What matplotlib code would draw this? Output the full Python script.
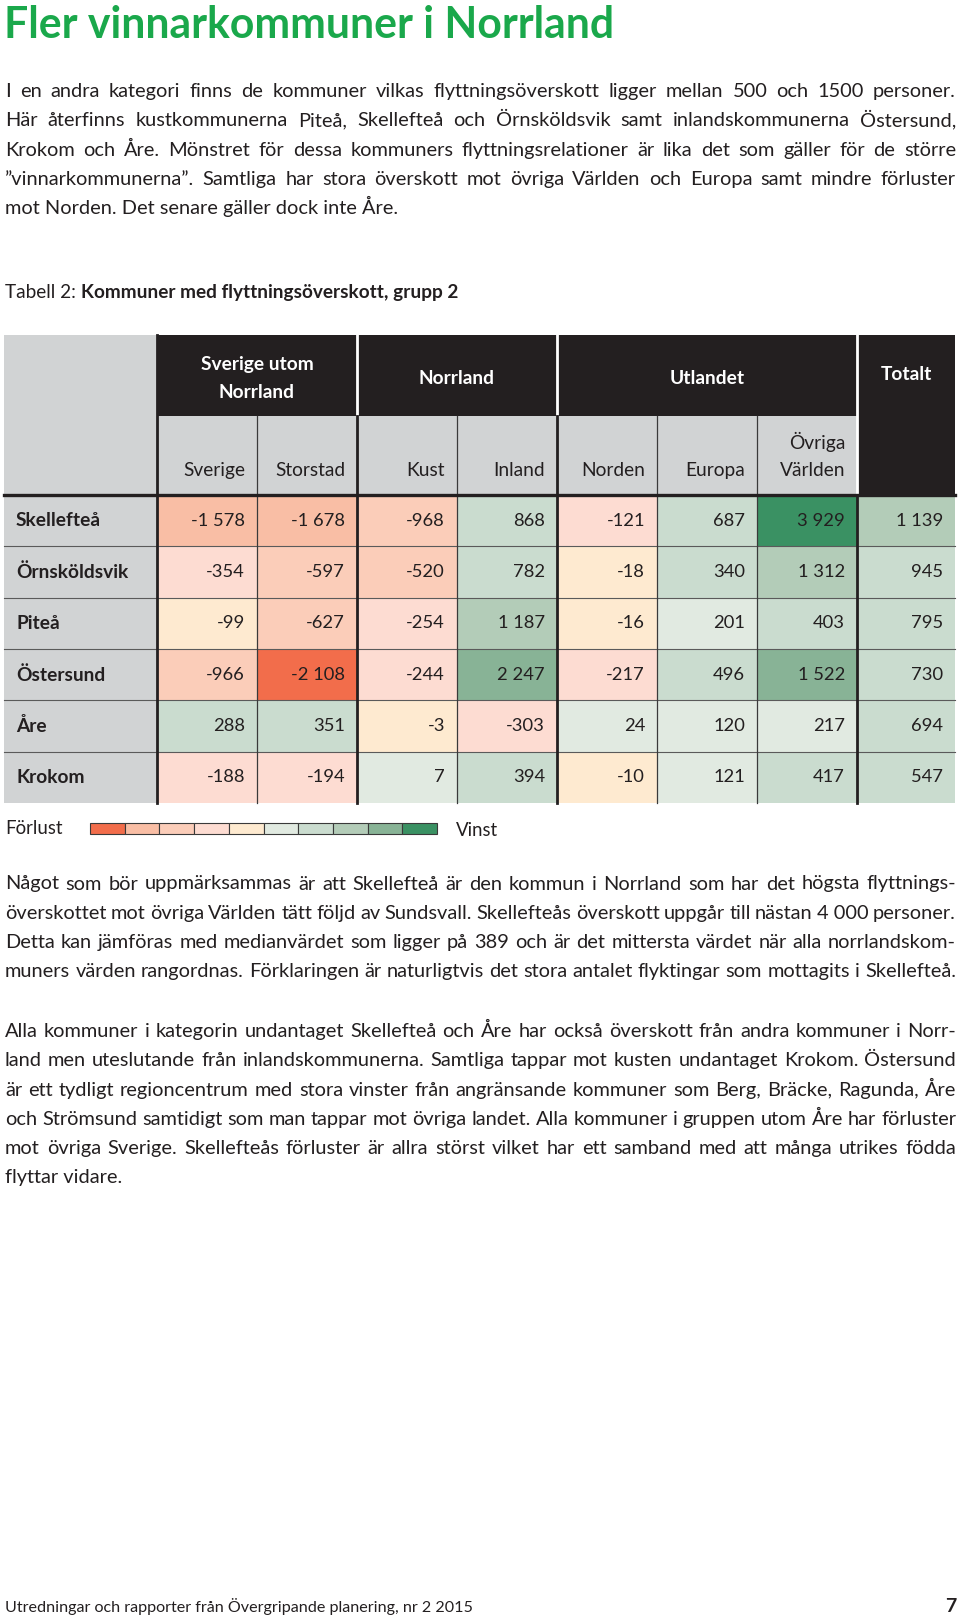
import matplotlib
matplotlib.use("Agg")
import matplotlib.pyplot as plt
import numpy as np
from matplotlib.colors import ListedColormap, BoundaryNorm
from matplotlib.patches import Rectangle

plt.rcParams["font.family"] = ["Lato", "DejaVu Sans"]

# data
kommuner = ["Skellefteå", "Örnsköldsvik", "Piteå", "Östersund", "Åre", "Krokom"]
kolumner = ["Sverige", "Storstad", "Kust", "Inland", "Norden", "Europa", "Övriga\nVärlden"]
grupper = [("Sverige utom\nNorrland", 0, 2), ("Norrland", 2, 4), ("Utlandet", 4, 7)]
sverige = [-1578, -354, -99, -966, 288, -188]
storstad = [-1678, -597, -627, -2108, 351, -194]
kust = [-968, -520, -254, -244, -3, 7]
inland = [868, 782, 1187, 2247, -303, 394]
norden = [-121, -18, -16, -217, 24, -10]
europa = [687, 340, 201, 496, 120, 121]
ovriga = [3929, 1312, 403, 1522, 217, 417]
totalt = [1139, 945, 795, 730, 694, 547]

# klassgränser och färger (Förlust -> Vinst)
grans = [-5000, -2000, -1000, -500, -100, 0, 275, 1000, 1500, 3000, 10000]
farger = ["#f26d4b", "#f9bea5", "#fbcdb9", "#fddcd2", "#feead0",
          "#e1eae1", "#cadccf", "#b3ccb8", "#88b396", "#3a9163"]
cmap = ListedColormap(farger)
norm = BoundaryNorm(grans, cmap.N)

TXT = "#231f20"
GREY = "#d1d3d4"
GREEN = "#1aa84b"

fig = plt.figure(figsize=(9.6, 16.16), dpi=100)
ax = fig.add_axes([0, 0, 1, 1])
ax.set_xlim(0, 960)
ax.set_ylim(1616, 0)
ax.axis("off")
renderer = fig.canvas.get_renderer()

X0, X1 = 5, 956
BODY = 14.4


def line(text, y, justify=True, size=BODY, **kw):
    words = text.split(" ")
    if not justify or len(words) < 2:
        ax.text(X0, y, text, ha="left", va="baseline", fontsize=size, color=TXT, **kw)
        return
    arts = [ax.text(0, y, w, ha="left", va="baseline", fontsize=size, color=TXT, **kw)
            for w in words]
    widths = [a.get_window_extent(renderer).width for a in arts]
    gap = (X1 - X0 - sum(widths)) / (len(words) - 1)
    x = X0
    for a, w in zip(arts, widths):
        a.set_x(x)
        x += w + gap


def paragraph(lines, y0, last_justified=False, step=29.3):
    for i, t in enumerate(lines):
        last = i == len(lines) - 1
        line(t, y0 + i * step, justify=(not last) or last_justified)


# rubrik
ax.text(4, 38, "Fler vinnarkommuner i Norrland", fontsize=30.8, fontweight="bold",
        color=GREEN, ha="left", va="baseline")

paragraph([
    "I en andra kategori finns de kommuner vilkas flyttningsöverskott ligger mellan 500 och 1500 personer.",
    "Här återfinns kustkommunerna Piteå, Skellefteå och Örnsköldsvik samt inlandskommunerna Östersund,",
    "Krokom och Åre. Mönstret för dessa kommuners flyttningsrelationer är lika det som gäller för de större",
    "”vinnarkommunerna”. Samtliga har stora överskott mot övriga Världen och Europa samt mindre förluster",
    "mot Norden. Det senare gäller dock inte Åre.",
], 97)

# tabelltitel
t1 = ax.text(5, 298, "Tabell 2: ", fontsize=13.7, color=TXT, ha="left", va="baseline")
w1 = t1.get_window_extent(renderer).width
ax.text(5 + w1, 298, "Kommuner med flyttningsöverskott, grupp 2", fontsize=13.7,
        fontweight="bold", color=TXT, ha="left", va="baseline")

# tabellgeometri
xe = np.array([157, 257, 357, 457, 557, 657, 757, 857, 955])
ye = np.linspace(495, 803, len(kommuner) + 1)
top, mid, hb = 335, 415.7, 494.5
left = 4

# huvud
ax.add_patch(Rectangle((left, top), xe[0] - left, hb - top, color=GREY, lw=0))
ax.add_patch(Rectangle((xe[0], top), xe[7] - xe[0], mid - top, color=TXT, lw=0))
ax.add_patch(Rectangle((xe[0], mid), xe[7] - xe[0], hb - mid, color=GREY, lw=0))
ax.add_patch(Rectangle((xe[7], top), xe[8] - xe[7], hb - top, color=TXT, lw=0))
for xv in (xe[2], xe[4], xe[7]):
    ax.plot([xv, xv], [top, hb if xv == xe[7] else mid], color="white", lw=2.0)

for namn, a, b in grupper:
    ax.text((xe[a] + xe[b]) / 2, (top + mid) / 2 + 3, namn, color="white",
            fontsize=13.8, fontweight="bold", ha="center", va="center", linespacing=1.75)
ax.text((xe[7] + xe[8]) / 2, 374, "Totalt", color="white", fontsize=13.8,
        fontweight="bold", ha="center", va="center")
for j, k in enumerate(kolumner):
    ax.text(xe[j + 1] - 12, 476, k, color=TXT, fontsize=13.8, ha="right",
            va="baseline", multialignment="right", linespacing=1.75)

# data
data = np.array([sverige, storstad, kust, inland, norden, europa, ovriga, totalt]).T
ax.add_patch(Rectangle((left, ye[0]), xe[0] - left, ye[-1] - ye[0], color=GREY, lw=0))
ax.pcolormesh(xe, ye, data, cmap=cmap, norm=norm, shading="flat")
for i, k in enumerate(kommuner):
    yc = (ye[i] + ye[i + 1]) / 2
    ax.text(16, yc, k, fontsize=13.8, fontweight="bold", color=TXT, ha="left", va="center")
    for j in range(data.shape[1]):
        s = f"{data[i, j]:,}".replace(",", " ")
        ax.text(xe[j + 1] - 12, yc, s, fontsize=13.2, color=TXT, ha="right", va="center")

# linjer
for y in ye[1:-1]:
    ax.plot([left, xe[-1]], [y, y], color="#5a5a5a", lw=0.8)
for xv in (xe[1], xe[3], xe[5], xe[6]):
    ax.plot([xv, xv], [mid, ye[-1]], color="#3a3a3a", lw=0.9)
for xv in (xe[0], xe[2], xe[4]):
    ax.plot([xv, xv], [mid if xv != xe[0] else top, ye[-1]], color=TXT, lw=2.0)
ax.plot([xe[7], xe[7]], [hb, ye[-1]], color=TXT, lw=2.0)
ax.plot([left, xe[-1]], [hb, hb], color=TXT, lw=2.4)

# teckenförklaring
ax.text(5, 829, "Förlust", fontsize=13.4, color=TXT, ha="left", va="center")
bw = (437 - 90) / len(farger)
for i, c in enumerate(farger):
    ax.add_patch(Rectangle((90 + i * bw, 823), bw, 11, facecolor=c, edgecolor="#3a3a3a", lw=0.8))
ax.text(456, 831, "Vinst", fontsize=13.4, color=TXT, ha="left", va="center")

paragraph([
    "Något som bör uppmärksammas är att Skellefteå är den kommun i Norrland som har det högsta flyttnings-",
    "överskottet mot övriga Världen tätt följd av Sundsvall. Skellefteås överskott uppgår till nästan 4\u00a0000 personer.",
    "Detta kan jämföras med medianvärdet som ligger på 389 och är det mittersta värdet när alla norrlandskom-",
    "muners värden rangordnas. Förklaringen är naturligtvis det stora antalet flyktingar som mottagits i Skellefteå.",
], 889.5, last_justified=True)

paragraph([
    "Alla kommuner i kategorin undantaget Skellefteå och Åre har också överskott från andra kommuner i Norr-",
    "land men uteslutande från inlandskommunerna. Samtliga tappar mot kusten undantaget Krokom. Östersund",
    "är ett tydligt regioncentrum med stora vinster från angränsande kommuner som Berg, Bräcke, Ragunda, Åre",
    "och Strömsund samtidigt som man tappar mot övriga landet. Alla kommuner i gruppen utom Åre har förluster",
    "mot övriga Sverige. Skellefteås förluster är allra störst vilket har ett samband med att många utrikes födda",
    "flyttar vidare.",
], 1037)

# sidfot
ax.text(5, 1612, "Utredningar och rapporter från Övergripande planering, nr 2 2015",
        fontsize=11.6, color=TXT, ha="left", va="baseline")
ax.text(956, 1612, "7", fontsize=14, fontweight="bold", color=TXT, ha="right", va="baseline")

fig.savefig("out.png", dpi=100)
